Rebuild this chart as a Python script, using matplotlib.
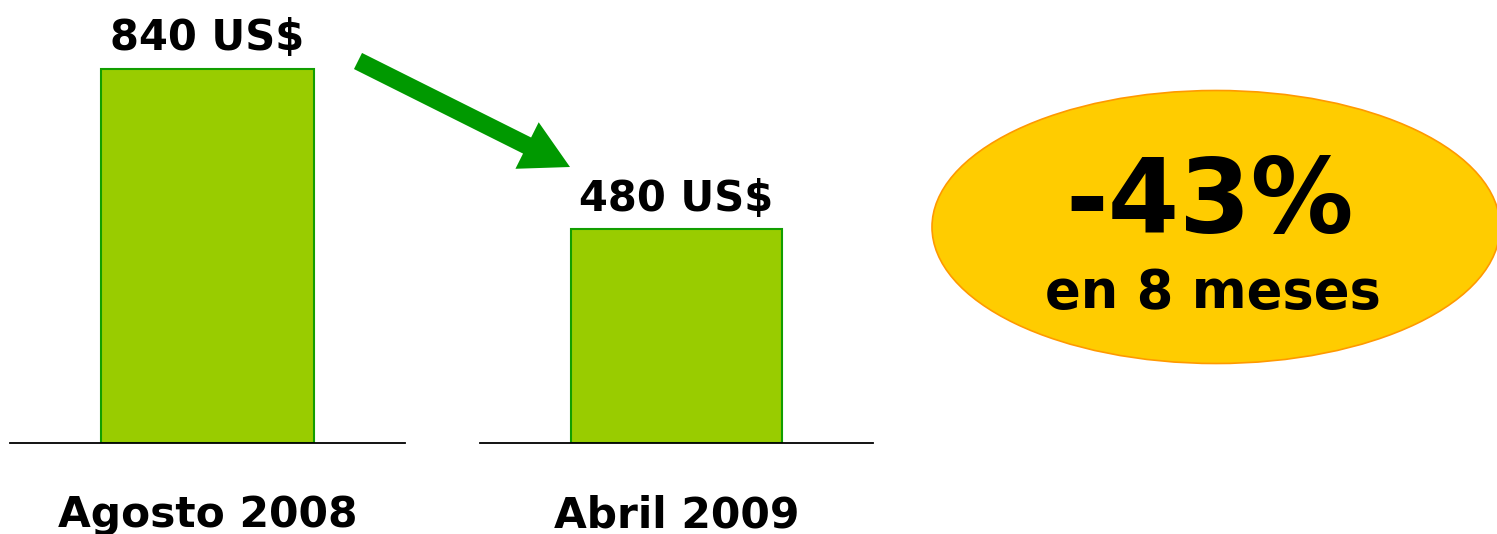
import matplotlib
matplotlib.use("Agg")
import matplotlib.pyplot as plt
from matplotlib.patches import Ellipse, FancyArrow

# datos
meses = ["Agosto 2008", "Abril 2009"]
precios = [840, 480]
etiquetas = ["840 US$", "480 US$"]
cambio = "-43%"
periodo = "en 8 meses"

W, H = 1497, 534
fig = plt.figure(figsize=(W / 100, H / 100), dpi=100)
fig.patch.set_facecolor("white")

# capa de fondo en pixeles para flecha y elipse
ax0 = fig.add_axes([0, 0, 1, 1])
ax0.set_xlim(0, W)
ax0.set_ylim(H, 0)
ax0.axis("off")

# un eje por barra (la linea base esta cortada)
ejes_x = [(10, 405), (480, 873)]
base_y = 443
for (x0, x1), mes, p, lab in zip(ejes_x, meses, precios, etiquetas):
    ax = fig.add_axes([x0 / W, (H - base_y) / H, (x1 - x0) / W, 405 / H])
    ax.patch.set_alpha(0)
    ax.bar([0], [p], width=1.078, color="#99CC00", edgecolor="#129E00", linewidth=1.5)
    ax.set_xlim(-1, 1)
    ax.set_ylim(0, 910)
    for s in ["top", "right", "left"]:
        ax.spines[s].set_visible(False)
    ax.spines["bottom"].set_color("black")
    ax.spines["bottom"].set_linewidth(1.3)
    ax.set_yticks([])
    ax.set_xticks([0])
    ax.set_xticklabels([mes], fontsize=30.5, fontweight="bold")
    ax.tick_params(axis="x", length=0, pad=37)
    ax.annotate(lab, (0, p), xytext=(0, 7), textcoords="offset points",
                ha="center", va="bottom", fontsize=30, fontweight="bold")

# flecha verde
ax0.add_patch(FancyArrow(358, 61, 212, 106, width=18, head_width=52, head_length=48,
                         length_includes_head=True, color="#009900", lw=0))

# elipse amarilla
ax0.add_patch(Ellipse((1216, 227), 568, 273, facecolor="#FFCC00",
                      edgecolor="#FF9900", linewidth=1.2))
ax0.text(1210, 205, cambio, ha="center", va="center", fontsize=74, fontweight="bold")
ax0.text(1213, 293, periodo, ha="center", va="center", fontsize=38, fontweight="bold")

fig.savefig("out.png", dpi=100)
